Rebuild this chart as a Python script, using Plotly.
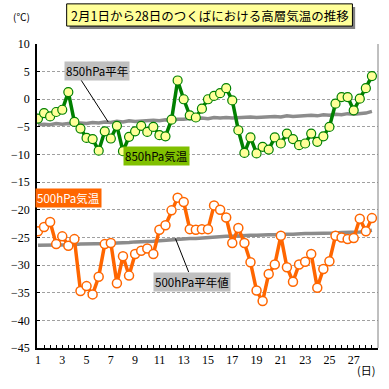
import plotly.graph_objects as go

days = list(range(1, 29))
half = [0.0, 0.5]

t850 = [-3.5, -2.5, -3.1, -2.3, -1.9, 1.3, -4.1, -5.3, -7.0, -7.2,
        -9.3, -5.8, -7.1, -4.8, -9.4, -6.8, -5.8, -4.8, -5.9, -5.0,
        -6.5, -6.7, -3.7, 3.4, 0.0, -2.9, -3.3, -1.7, 0.0, 0.6,
        1.1, 2.0, -0.2, -5.6, -9.7, -6.9, -9.8, -8.6, -9.1, -6.9,
        -8.0, -6.2, -7.2, -8.3, -8.0, -6.2, -7.7, -6.7, -5.0, -0.8,
        0.4, 0.4, -2.0, 0.1, 2.0, 4.2]

t500 = [-23.9, -23.1, -22.2, -26.2, -24.8, -26.5, -25.3, -34.7, -33.8, -35.3,
        -32.1, -26.2, -26.0, -33.3, -28.4, -31.9, -28.0, -27.4, -27.0, -28.0,
        -23.6, -22.8, -20.1, -17.8, -18.6, -23.5, -23.6, -23.5, -23.5, -19.2,
        -20.0, -21.4, -26.0, -23.3, -26.0, -29.5, -34.6, -36.5, -31.6, -29.9,
        -24.7, -30.4, -33.0, -29.9, -29.4, -28.0, -34.1, -30.7, -29.3, -24.7,
        -25.0, -25.3, -25.1, -21.6, -23.9, -21.5]

n850 = [-4.6, -4.5, -4.6, -4.4, -4.5, -4.4, -4.5, -4.3, -4.4, -4.2,
        -4.3, -4.1, -4.2, -4.0, -4.1, -3.9, -4.0, -3.9, -3.9, -3.8,
        -3.9, -3.7, -3.8, -3.6, -3.6, -3.5, -3.6, -3.4, -3.5, -3.3,
        -3.4, -3.3, -3.4, -3.3, -3.3, -3.2, -3.3, -3.2, -3.2, -3.1,
        -3.2, -3.0, -3.1, -3.0, -3.0, -2.9, -3.0, -2.8, -2.9, -2.7,
        -2.8, -2.6, -2.7, -2.6, -2.5, -2.2]

n500 = [-26.4, -26.4, -26.4, -26.3, -26.4, -26.3, -26.3, -26.2, -26.2, -26.2,
        -26.2, -26.1, -26.1, -26.0, -26.0, -25.9, -25.8, -25.8, -25.7, -25.7,
        -25.6, -25.5, -25.5, -25.4, -25.3, -25.2, -25.2, -25.1, -25.0, -25.0,
        -24.9, -24.8, -24.8, -24.7, -24.7, -24.6, -24.6, -24.5, -24.5, -24.5,
        -24.4, -24.4, -24.4, -24.3, -24.3, -24.3, -24.3, -24.2, -24.2, -24.2,
        -24.1, -24.1, -24.0, -24.0, -23.9, -23.7]

x_tick_days = list(range(1, 28, 2))
y_ticks = list(range(-45, 11, 5))

x_obs = [d + h for d in days for h in half]

fig = go.Figure()
fig.add_trace(go.Scatter(x=x_obs, y=n850, mode="lines",
                         line=dict(color="#8c8c8c", width=3.5), hoverinfo="skip"))
fig.add_trace(go.Scatter(x=x_obs, y=n500, mode="lines",
                         line=dict(color="#8c8c8c", width=3.5), hoverinfo="skip"))
fig.add_trace(go.Scatter(x=x_obs, y=t850, mode="lines+markers",
                         line=dict(color="#008000", width=3.5),
                         marker=dict(size=9, color="#ffff99",
                                     line=dict(color="#008000", width=1.2))))
fig.add_trace(go.Scatter(x=x_obs, y=t500, mode="lines+markers",
                         line=dict(color="#ff6600", width=3.5),
                         marker=dict(size=9, color="#ffffff",
                                     line=dict(color="#ff6600", width=1.5))))

tick_font = dict(family="Liberation Serif", size=12, color="#000000")
jp = "Noto Sans CJK JP"

fig.update_xaxes(range=[0.92, 29.0], tickvals=x_tick_days,
                 ticktext=[str(d) for d in x_tick_days],
                 ticks="inside", ticklen=3, tickcolor="#000",
                 minor=dict(dtick=0.5, tick0=1, ticks="inside", ticklen=3,
                            tickcolor="#000", showgrid=False),
                 showgrid=False, zeroline=False, showline=True,
                 linecolor="#000", linewidth=1.5, tickfont=tick_font)
fig.update_yaxes(range=[-45, 10], tickvals=y_ticks,
                 ticks="inside", ticklen=3, tickcolor="#000",
                 showgrid=True, gridcolor="#a0a0a0", gridwidth=1,
                 griddash="3px,2px", zeroline=False, showline=True,
                 linecolor="#000", linewidth=1.5, tickfont=tick_font,
                 ticklabelstandoff=3)

fig.add_shape(type="line", xref="paper", yref="paper", x0=1, x1=1, y0=0, y1=1,
              line=dict(color="#808080", width=1))

# title box with drop shadow
fig.add_shape(type="rect", xref="paper", yref="paper",
              x0=0.0957, x1=0.933, y0=1.049, y1=1.122,
              fillcolor="#808080", line=dict(width=0), layer="below")
fig.add_shape(type="rect", xref="paper", yref="paper",
              x0=0.087, x1=0.925, y0=1.059, y1=1.132,
              fillcolor="#ffff99", line=dict(color="#000000", width=1), layer="below")

title = "2月1日から28日のつくばにおける高層気温の推移"
fig.add_annotation(xref="paper", yref="paper", x=0.506, y=1.095, text=title,
                   xanchor="center", yanchor="middle", showarrow=False,
                   font=dict(family=jp, size=12.5, color="#000000"))

fig.add_annotation(xref="paper", yref="paper", x=-0.046, y=1.089, text="(℃)",
                   xanchor="center", yanchor="middle",
                   showarrow=False, font=dict(family=jp, size=10, color="#000"))
fig.add_annotation(xref="paper", yref="paper", x=0.966, y=-0.074, text="(日)",
                   xanchor="center", yanchor="middle",
                   showarrow=False, font=dict(family=jp, size=11, color="#000"))

# leader for 850 normal
fig.add_annotation(x=6.78, y=-4.1, ax=-33, ay=-51, text=" ", showarrow=True,
                   arrowhead=0, arrowwidth=1, arrowcolor="#000")
fig.add_annotation(x=5.85, y=5.06, text="850hPa平年", showarrow=False,
                   xanchor="center", yanchor="middle",
                   font=dict(family=jp, size=11.5, color="#000"),
                   bgcolor="#c0c0c0", borderpad=1)
fig.add_annotation(x=10.77, y=-10.3, text="850hPa気温", showarrow=False,
                   xanchor="center", yanchor="middle",
                   font=dict(family=jp, size=11.5, color="#000"),
                   bgcolor="#80c000", borderpad=1)
fig.add_annotation(x=3.52, y=-17.85, text="500hPa気温", showarrow=False,
                   xanchor="center", yanchor="middle",
                   font=dict(family=jp, size=11.5, color="#ffffff"),
                   bgcolor="#ff6600", borderpad=1)
fig.add_annotation(x=12.32, y=-25.2, ax=17, ay=43, text="500hPa平年値",
                   showarrow=True, arrowhead=0, arrowwidth=1, arrowcolor="#000",
                   font=dict(family=jp, size=11.5, color="#000"),
                   bgcolor="#c0c0c0", borderpad=1)

fig.update_layout(width=389, height=389, showlegend=False,
                  margin=dict(l=33, r=11, t=44, b=41),
                  plot_bgcolor="#ffffff", paper_bgcolor="#ffffff")

fig.write_html("out.html", config={"displayModeBar": False},
               post_script="document.body.style.margin='0';document.body.style.padding='0';")
